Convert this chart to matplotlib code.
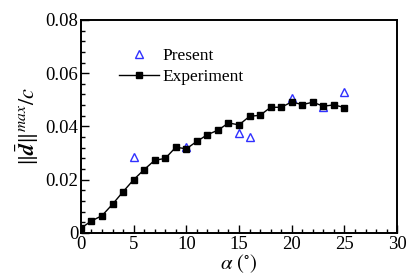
import matplotlib
matplotlib.use('Agg')
import matplotlib.pyplot as plt
from matplotlib.ticker import MultipleLocator

# experiment data
exp_alpha = [0, 1, 2, 3, 4, 5, 6, 7, 8, 9, 10, 11, 12, 13, 14, 15, 16, 17,
             18, 19, 20, 21, 22, 23, 24, 25]
exp_d = [0.0018, 0.0045, 0.0065, 0.0108, 0.0155, 0.0200, 0.0238, 0.0273,
         0.0280, 0.0322, 0.0316, 0.0344, 0.0369, 0.0386, 0.0413, 0.0406,
         0.0438, 0.0442, 0.0472, 0.0472, 0.0492, 0.0482, 0.0491, 0.0476,
         0.0481, 0.0471]

# present results
pre_alpha = [5, 10, 15, 16, 20, 23, 25]
pre_d = [0.0284, 0.0324, 0.0374, 0.0359, 0.0506, 0.0474, 0.0531]

plt.rcParams['font.family'] = ['Liberation Serif', 'DejaVu Serif']
plt.rcParams['mathtext.fontset'] = 'stix'

fig = plt.figure(figsize=(4.15, 2.77), dpi=100)
ax = fig.add_axes([0.195, 0.159, 0.762, 0.769])

ax.plot(pre_alpha, pre_d, linestyle='none', marker='^', markersize=5.5,
        markerfacecolor='none', markeredgecolor='#3030ff', markeredgewidth=1.0,
        label='Present')
ax.plot(exp_alpha, exp_d, color='black', linewidth=1.0, marker='s',
        markersize=4, label='Experiment')

ax.set_xlim(0, 30)
ax.set_ylim(0, 0.08)
ax.xaxis.set_major_locator(MultipleLocator(5))
ax.xaxis.set_minor_locator(MultipleLocator(1))
ax.yaxis.set_major_locator(MultipleLocator(0.02))
ax.yaxis.set_minor_locator(MultipleLocator(0.004))
ax.yaxis.set_major_formatter(plt.FuncFormatter(lambda v, p: '0' if v == 0 else f'{v:.2f}'))

ax.tick_params(which='both', direction='in', top=False, right=False,
               labelsize=13.5, width=1.0)
ax.tick_params(which='major', length=6, pad=2)
ax.tick_params(which='minor', length=3)
for s in ax.spines.values():
    s.set_linewidth(1.4)

ax.set_xlabel(r'$\alpha\ (^{\circ})$', fontsize=15, labelpad=0)
ax.set_ylabel(r'$\Vert\bar{\boldsymbol{d}}\Vert^{max}/c$', fontsize=16, labelpad=3)

ax.legend(loc='upper left', bbox_to_anchor=(0.10, 0.90), frameon=False,
          fontsize=12.5, handlelength=2.3, handletextpad=0.2, labelspacing=0.25,
          borderaxespad=0)

fig.savefig('out.png', dpi=100)
